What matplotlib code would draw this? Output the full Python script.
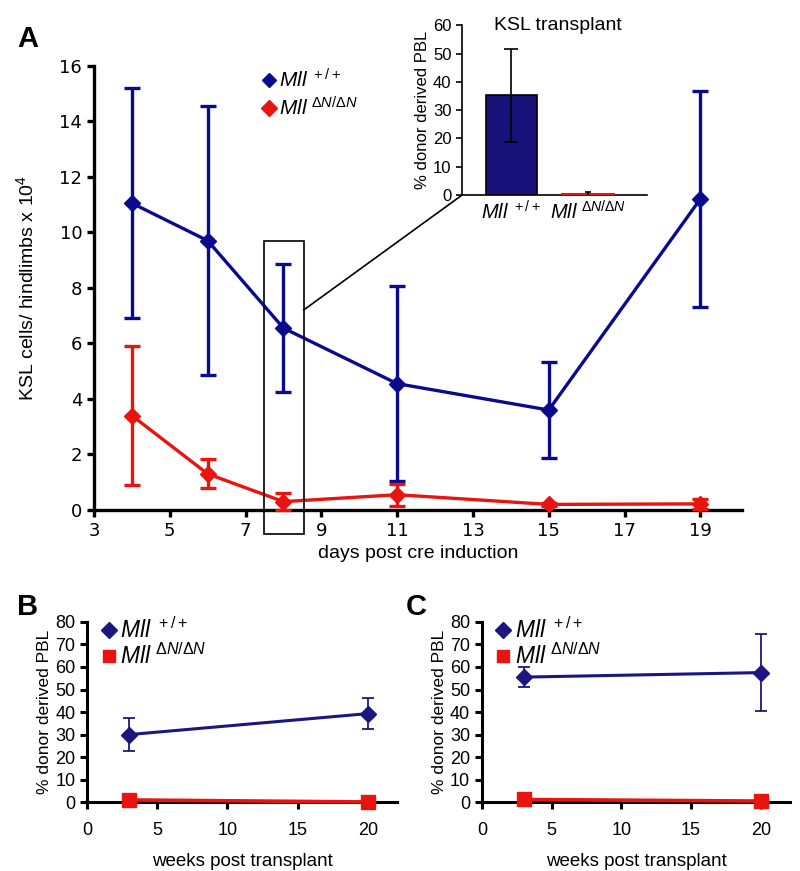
import matplotlib
matplotlib.use("Agg")
import matplotlib.pyplot as plt
from matplotlib.lines import Line2D
from matplotlib.patches import Rectangle, ConnectionPatch

plt.rcParams['font.family'] = ['Liberation Sans', 'DejaVu Sans']
plt.rcParams['mathtext.fontset'] = 'custom'
plt.rcParams['mathtext.rm'] = 'Liberation Sans'
plt.rcParams['mathtext.it'] = 'Liberation Sans:italic'

# Panel A: KSL cells per hindlimbs (x 10^4)
days = [4, 6, 8, 11, 15, 19]
wt_ksl = [11.05, 9.7, 6.55, 4.55, 3.6, 11.2]
wt_ksl_err = [4.15, 4.85, 2.3, 3.5, 1.73, 3.9]
mut_ksl = [3.4, 1.3, 0.3, 0.55, 0.2, 0.22]
mut_ksl_err = [2.5, 0.52, 0.3, 0.4, 0.06, 0.17]

# inset: KSL transplant
inset_groups = [0, 1]
inset_vals = [35.2, 0.3]
inset_err = [16.5, 0.9]

# Panel B / C: % donor derived PBL
weeks = [3, 20]
b_wt = [30.0, 39.3]
b_wt_err = [7.4, 7.0]
b_mut = [1.0, 0.1]
c_wt = [55.5, 57.5]
c_wt_err = [4.5, 17.0]
c_mut = [1.2, 0.5]

blue = '#0a0a8e'
blue2 = '#1c1680'
red = '#e8140f'

lab_wt = r'$\mathit{Mll}^{\ +/+}$'
lab_mut = r'$\mathit{Mll}^{\ \Delta N/\Delta N}$'

fig = plt.figure(figsize=(8, 8.71), dpi=100)


def style_axes(ax, lw=2.4):
    for s in ['top', 'right']:
        ax.spines[s].set_visible(False)
    for s in ['left', 'bottom']:
        ax.spines[s].set_linewidth(lw)
        ax.spines[s].set_color('black')
    ax.tick_params(width=lw, length=5, direction='out', labelsize=12)


# ---------------- panel A
axA = fig.add_axes([0.1175, 0.4145, 0.81, 0.51])
axA.errorbar(days, wt_ksl, yerr=wt_ksl_err, color=blue, lw=2.4, marker='D',
             ms=8, capsize=6, capthick=2.4, elinewidth=2.4, clip_on=False, zorder=3)
axA.errorbar(days, mut_ksl, yerr=mut_ksl_err, color=red, lw=2.4, marker='D',
             ms=8, capsize=6, capthick=2.4, elinewidth=2.4, clip_on=False, zorder=3)
axA.set_xlim(3, 20.1)
axA.set_ylim(0, 16)
axA.set_xticks([3, 5, 7, 9, 11, 13, 15, 17, 19])
axA.set_yticks([0, 2, 4, 6, 8, 10, 12, 14, 16])
style_axes(axA)
axA.tick_params(labelsize=13)
for t in axA.get_xticklabels() + axA.get_yticklabels():
    t.set_family('DejaVu Sans')
axA.set_xlabel('days post cre induction', fontsize=14, labelpad=4)
axA.set_ylabel(r'KSL cells/ hindlimbs x 10$^{4}$', fontsize=14, labelpad=16)

handles = [Line2D([], [], color=blue, marker='D', ls='none', ms=7),
           Line2D([], [], color=red, marker='D', ls='none', ms=8)]
axA.legend(handles, [lab_wt, lab_mut], loc='upper left', bbox_to_anchor=(0.231, 1.036),
           frameon=False, fontsize=15, handlelength=0.6, handletextpad=0.2,
           labelspacing=0.2)

box = Rectangle((7.48, -0.85), 1.05, 10.55, fill=False, ec='black', lw=1.2,
                clip_on=False, zorder=4)
axA.add_patch(box)

# ---------------- inset
axI = fig.add_axes([0.5775, 0.776, 0.231, 0.195])
axI.bar(inset_groups[0], inset_vals[0], width=0.665, color='#16127a',
        ec='black', lw=1.2, yerr=inset_err[0], capsize=5,
        error_kw=dict(ecolor='black', elinewidth=1.2, capthick=1.2))
axI.bar(inset_groups[1], inset_vals[1], width=0.665, color=red,
        ec=red, lw=2.2, yerr=inset_err[1], capsize=2, zorder=3,
        error_kw=dict(ecolor='black', elinewidth=1.2, capthick=1.2))
axI.set_xlim(-0.64, 1.77)
axI.set_ylim(0, 60)
axI.set_yticks([0, 10, 20, 30, 40, 50, 60])
axI.set_xticks(inset_groups)
axI.set_xticklabels([lab_wt, lab_mut], fontsize=14.5)
for s in ['top', 'right']:
    axI.spines[s].set_visible(False)
axI.spines['left'].set_linewidth(1.2)
axI.spines['bottom'].set_linewidth(1.2)
axI.tick_params(axis='y', width=1.2, length=4, labelsize=12)
axI.tick_params(axis='x', length=0, pad=4)
axI.set_ylabel('% donor derived PBL', fontsize=12, labelpad=2)
axI.text(0.52, 1.0, 'KSL transplant', transform=axI.transAxes, fontsize=14,
         ha='center', va='center')
axI.patch.set_alpha(0)

con = ConnectionPatch(xyA=(8.53, 7.2), coordsA=axA.transData,
                      xyB=(0, 0), coordsB=axI.transAxes,
                      color='black', lw=1.2)
fig.add_artist(con)


# ---------------- panels B and C
def small_panel(rect, wt, wt_err, mut):
    ax = fig.add_axes(rect)
    ax.errorbar(weeks, mut, color=red, lw=2.6, marker='s', ms=10,
                clip_on=False, zorder=3)
    ax.errorbar(weeks, wt, yerr=wt_err, color=blue2, lw=2.2, marker='D', ms=8,
                capsize=4, capthick=1.3, elinewidth=1.3, clip_on=False, zorder=4)
    ax.set_xlim(0, 22.1)
    ax.set_ylim(0, 80)
    ax.set_xticks([0, 5, 10, 15, 20])
    ax.set_yticks([0, 10, 20, 30, 40, 50, 60, 70, 80])
    style_axes(ax, lw=2.2)
    ax.tick_params(labelsize=13)
    ax.tick_params(axis='x', pad=9)
    ax.set_xlabel('weeks post transplant', fontsize=13.5, labelpad=10)
    ax.set_ylabel('% donor derived PBL', fontsize=12.5, labelpad=2)
    hs = [Line2D([], [], color=blue2, marker='D', ls='none', ms=8),
          Line2D([], [], color=red, marker='s', ls='none', ms=9)]
    ax.legend(hs, [lab_wt, lab_mut], loc='upper left', bbox_to_anchor=(-0.02, 1.14),
              frameon=False, fontsize=16.5, handlelength=0.6, handletextpad=0.2,
              labelspacing=0.02)
    return ax


axB = small_panel([0.109, 0.079, 0.3875, 0.207], b_wt, b_wt_err, b_mut)
axC = small_panel([0.6025, 0.079, 0.385, 0.207], c_wt, c_wt_err, c_mut)

fig.text(0.035, 0.955, 'A', fontsize=21, fontweight='bold', va='center', ha='center')
fig.text(0.035, 0.303, 'B', fontsize=21, fontweight='bold', va='center', ha='center')
fig.text(0.52, 0.303, 'C', fontsize=21, fontweight='bold', va='center', ha='center')

fig.savefig('out.png', dpi=100)
